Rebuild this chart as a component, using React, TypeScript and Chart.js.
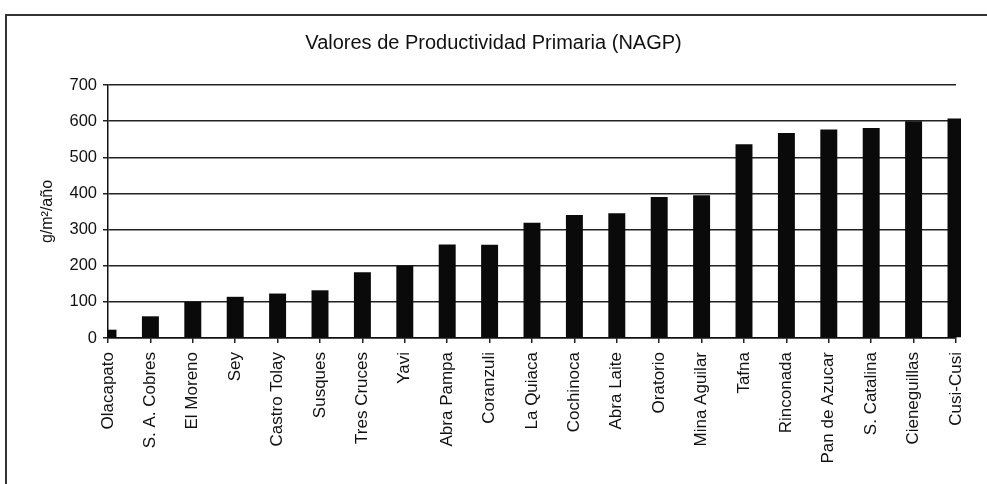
import React, { useEffect, useRef } from "react";
import { Chart, registerables } from "chart.js";

Chart.register(...registerables);

const categories = [
  "Olacapato",
  "S. A. Cobres",
  "El Moreno",
  "Sey",
  "Castro Tolay",
  "Susques",
  "Tres Cruces",
  "Yavi",
  "Abra Pampa",
  "Coranzuli",
  "La Quiaca",
  "Cochinoca",
  "Abra Laite",
  "Oratorio",
  "Mina Aguilar",
  "Tafna",
  "Rinconada",
  "Pan de Azucar",
  "S. Catalina",
  "Cieneguillas",
  "Cusi-Cusi",
];

const values = [23, 60, 100, 114, 123, 132, 182, 200, 259, 258, 319, 340, 345, 390, 395, 536, 567, 577, 581, 600, 607];

const yTicks = [0, 100, 200, 300, 400, 500, 600, 700];

const titleText = "Valores de Productividad Primaria (NAGP)";
const yTitle = "g/m²/año";

const FONT = "'Liberation Sans', Arial, Helvetica, sans-serif";

export default function App() {
  const ref = useRef<HTMLCanvasElement>(null);

  useEffect(() => {
    if (!ref.current) return;
    const chart = new Chart(ref.current, {
      type: "bar",
      data: {
        labels: categories,
        datasets: [
          {
            data: values,
            backgroundColor: "#0a0a0a",
            borderWidth: 0,
            barPercentage: 0.4,
            categoryPercentage: 1,
            clip: { left: 0, top: false, right: 5, bottom: 0 } as any,
          },
        ],
      },
      options: {
        responsive: false,
        animation: false,
        layout: { padding: 0 },
        plugins: {
          legend: { display: false },
          tooltip: { enabled: false },
          title: {
            display: true,
            text: titleText,
            color: "#111",
            font: { family: FONT, size: 20, weight: "normal" as any },
            padding: { top: 31, bottom: 30 },
          },
        },
        scales: {
          x: {
            offset: false,
            grid: {
              display: true,
              offset: false,
              drawOnChartArea: false,
              drawTicks: true,
              tickLength: 5,
              color: "#222",
              lineWidth: 1.5,
            },
            border: { display: true, color: "#111", width: 1.5 },
            ticks: {
              autoSkip: false,
              minRotation: 90,
              maxRotation: 90,
              padding: 9,
              color: "#111",
              font: { family: FONT, size: 17 },
            },
            afterFit: (s: any) => {
              s.height = 146;
            },
          },
          y: {
            min: 0,
            max: 700,
            afterBuildTicks: (s: any) => {
              s.ticks = yTicks.map((v) => ({ value: v }));
            },
            grid: {
              color: "#222",
              lineWidth: 1.5,
              drawTicks: true,
              tickLength: 5,
            },
            border: { display: true, color: "#111", width: 1.5 },
            ticks: {
              padding: 6,
              color: "#111",
              font: { family: FONT, size: 16.5 },
            },
            title: {
              display: true,
              text: yTitle,
              color: "#111",
              font: { family: FONT, size: 16 },
              padding: { top: 38, bottom: 0 },
            },
            afterFit: (s: any) => {
              s.width = 108;
            },
          },
          yR: {
            type: "linear",
            position: "right",
            display: true,
            ticks: { display: false },
            grid: { display: false },
            border: { display: false },
            afterFit: (s: any) => {
              s.width = 31;
            },
          },
        },
      } as any,
    });
    return () => chart.destroy();
  }, []);

  return (
    <div
      style={{
        position: "fixed",
        left: 0,
        top: 0,
        width: 987,
        height: 484,
        overflow: "hidden",
        background: "#fff",
      }}
    >
      <div
        style={{
          position: "absolute",
          left: 5,
          top: 14,
          width: 1000,
          height: 600,
          border: "2px solid #333",
          boxSizing: "border-box",
        }}
      />
      <canvas
        ref={ref}
        width={987}
        height={484}
        style={{ position: "absolute", left: 0, top: 0, width: 987, height: 484 }}
      />
    </div>
  );
}
